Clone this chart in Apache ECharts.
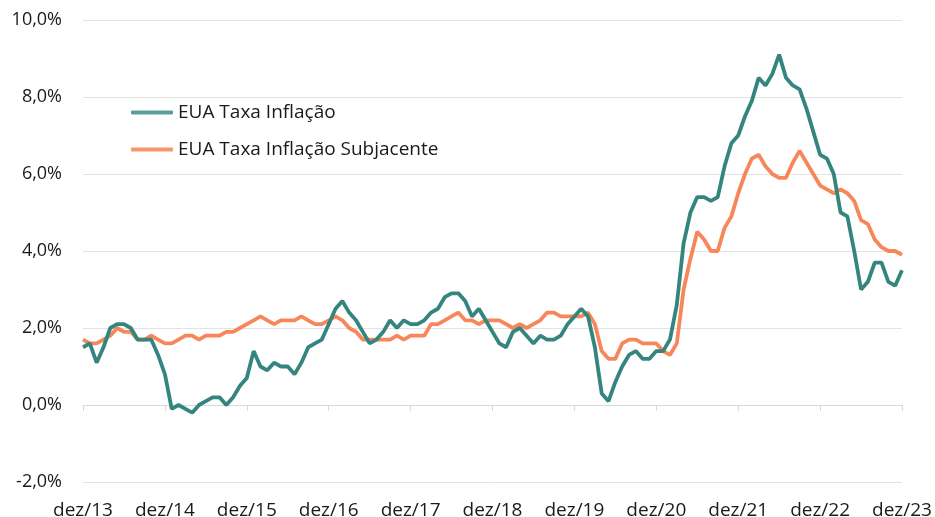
<!DOCTYPE html>
<html>
<head>
<meta charset="utf-8">
<script src="https://cdn.jsdelivr.net/npm/echarts@6/dist/echarts.min.js"></script>
<style>
  html, body { margin: 0; padding: 0; background: #fff; }
  #chart { width: 935px; height: 517px; }
</style>
</head>
<body>
<div id="chart"></div>
<script>
// meses dez/13 .. dez/23 (121 pontos mensais)
var meses = ['jan', 'fev', 'mar', 'abr', 'mai', 'jun', 'jul', 'ago', 'set', 'out', 'nov', 'dez'];
var categorias = ['dez/13'];
for (var ano = 14; ano <= 23; ano++) {
    for (var m = 0; m < 12; m++) {
        categorias.push(meses[m] + '/' + ano);
    }
}

var inflacao = [
    1.5,
    1.6, 1.1, 1.5, 2.0, 2.1, 2.1, 2.0, 1.7, 1.7, 1.7, 1.3, 0.8,
    -0.1, 0.0, -0.1, -0.2, 0.0, 0.1, 0.2, 0.2, 0.0, 0.2, 0.5, 0.7,
    1.4, 1.0, 0.9, 1.1, 1.0, 1.0, 0.8, 1.1, 1.5, 1.6, 1.7, 2.1,
    2.5, 2.7, 2.4, 2.2, 1.9, 1.6, 1.7, 1.9, 2.2, 2.0, 2.2, 2.1,
    2.1, 2.2, 2.4, 2.5, 2.8, 2.9, 2.9, 2.7, 2.3, 2.5, 2.2, 1.9,
    1.6, 1.5, 1.9, 2.0, 1.8, 1.6, 1.8, 1.7, 1.7, 1.8, 2.1, 2.3,
    2.5, 2.3, 1.5, 0.3, 0.1, 0.6, 1.0, 1.3, 1.4, 1.2, 1.2, 1.4,
    1.4, 1.7, 2.6, 4.2, 5.0, 5.4, 5.4, 5.3, 5.4, 6.2, 6.8, 7.0,
    7.5, 7.9, 8.5, 8.3, 8.6, 9.1, 8.5, 8.3, 8.2, 7.7, 7.1, 6.5,
    6.4, 6.0, 5.0, 4.9, 4.0, 3.0, 3.2, 3.7, 3.7, 3.2, 3.1, 3.5
];

var subjacente = [
    1.7,
    1.6, 1.6, 1.7, 1.8, 2.0, 1.9, 1.9, 1.7, 1.7, 1.8, 1.7, 1.6,
    1.6, 1.7, 1.8, 1.8, 1.7, 1.8, 1.8, 1.8, 1.9, 1.9, 2.0, 2.1,
    2.2, 2.3, 2.2, 2.1, 2.2, 2.2, 2.2, 2.3, 2.2, 2.1, 2.1, 2.2,
    2.3, 2.2, 2.0, 1.9, 1.7, 1.7, 1.7, 1.7, 1.7, 1.8, 1.7, 1.8,
    1.8, 1.8, 2.1, 2.1, 2.2, 2.3, 2.4, 2.2, 2.2, 2.1, 2.2, 2.2,
    2.2, 2.1, 2.0, 2.1, 2.0, 2.1, 2.2, 2.4, 2.4, 2.3, 2.3, 2.3,
    2.3, 2.4, 2.1, 1.4, 1.2, 1.2, 1.6, 1.7, 1.7, 1.6, 1.6, 1.6,
    1.4, 1.3, 1.6, 3.0, 3.8, 4.5, 4.3, 4.0, 4.0, 4.6, 4.9, 5.5,
    6.0, 6.4, 6.5, 6.2, 6.0, 5.9, 5.9, 6.3, 6.6, 6.3, 6.0, 5.7,
    5.6, 5.5, 5.6, 5.5, 5.3, 4.8, 4.7, 4.3, 4.1, 4.0, 4.0, 3.9
];

var corInflacao = '#35857f';
var corSubjacente = '#f7875b';

var chart = echarts.init(document.getElementById('chart'));
chart.setOption({
    animation: false,
    grid: { left: 83, right: 33, top: 20, bottom: 35, outerBoundsMode: 'none' },
    legend: {
        orient: 'vertical',
        left: 126,
        top: 98,
        itemWidth: 42,
        itemHeight: 4,
        itemGap: 18,
        icon: 'roundRect',
        textStyle: { fontFamily: 'Open Sans', fontSize: 19, color: '#1a1a1a' },
        data: [
            { name: 'EUA Taxa Inflação', itemStyle: { color: '#5c9e9a' } },
            { name: 'EUA Taxa Inflação Subjacente', itemStyle: { color: '#f9946c' } }
        ]
    },
    xAxis: [
        {
            // rótulos em baixo
            type: 'category',
            data: categorias,
            boundaryGap: false,
            position: 'bottom',
            axisLine: { show: false, onZero: false },
            axisTick: { show: false },
            axisLabel: {
                interval: 11,
                margin: 19,
                fontFamily: 'Open Sans',
                fontSize: 19,
                color: '#1a1a1a'
            }
        },
        {
            // linha do zero com marcas
            type: 'category',
            data: categorias,
            boundaryGap: false,
            position: 'top',
            axisLine: { onZero: true, lineStyle: { color: '#d9d9d9', width: 1 } },
            axisTick: { show: true, inside: true, interval: 11, length: 6, lineStyle: { color: '#d9d9d9' } },
            axisLabel: { show: false }
        }
    ],
    yAxis: {
        type: 'value',
        min: -2,
        max: 10,
        interval: 2,
        axisLine: { show: false },
        axisTick: { show: false },
        splitLine: { lineStyle: { color: '#e3e3e3', width: 1 } },
        axisLabel: {
            margin: 21,
            fontFamily: 'Open Sans',
            fontSize: 18,
            color: '#1a1a1a',
            formatter: function (v) { return v.toFixed(1).replace('.', ',') + '%'; }
        }
    },
    series: [
        {
            name: 'EUA Taxa Inflação',
            type: 'line',
            data: inflacao,
            showSymbol: false,
            color: corInflacao,
            lineStyle: { width: 3.8, color: corInflacao },
            z: 3
        },
        {
            name: 'EUA Taxa Inflação Subjacente',
            type: 'line',
            data: subjacente,
            showSymbol: false,
            color: corSubjacente,
            lineStyle: { width: 3.8, color: corSubjacente },
            z: 2
        }
    ]
});
</script>
</body>
</html>
